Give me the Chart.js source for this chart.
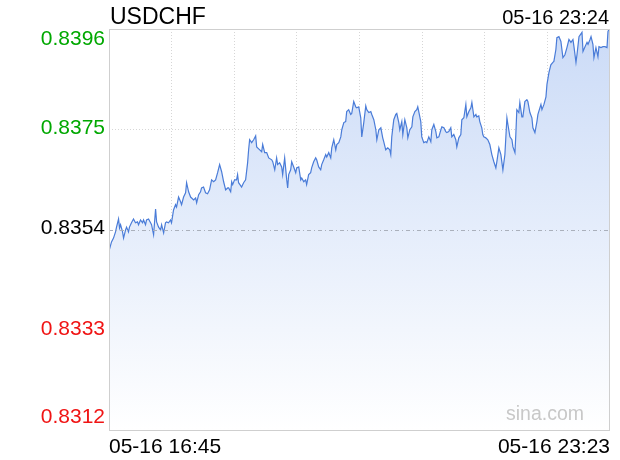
<!DOCTYPE html>
<html>
<head>
<meta charset="utf-8">
<title>USDCHF</title>
<script src="https://cdn.jsdelivr.net/npm/chart.js@4/dist/chart.umd.min.js"></script>
<style>
    body { margin: 0; background: #fff; }
    canvas { display: block; }
</style>
</head>
<body>
<canvas id="fxChart" width="620" height="460"></canvas>
<script>
// minutes after 16:45
const minutes = [
    0, 2.0, 3.6, 5.2, 6.0, 7.6, 8.4, 9.2, 10.8, 11.6, 13.2, 14.0, 15.5, 16.3, 17.9, 19.5, 21.1, 22.7, 23.5, 25.1,
    26.7, 27.5, 29.1, 29.9, 31.5, 33.1, 33.9, 35.5, 37.1, 37.9, 39.5, 41.1, 41.9, 43.5, 45.0, 45.8, 47.4, 49.0, 49.8, 51.4,
    53.0, 53.8, 55.4, 57.0, 57.8, 59.4, 61.0, 61.8, 63.4, 65.0, 65.8, 67.4, 69.0, 69.8, 71.4, 72.9, 73.7, 75.3, 76.9, 78.5,
    80.1, 81.7, 83.3, 84.9, 86.5, 88.1, 89.7, 91.3, 92.9, 94.5, 95.3, 96.9, 97.7, 98.5, 100.0, 101.6, 102.4, 103.2, 105.6, 107.2,
    108.8, 110.4, 111.2, 112.0, 113.6, 115.2, 116.8, 117.6, 119.2, 121.6, 122.4, 124.0, 125.6, 127.2, 129.6, 130.4, 132.0, 133.5, 134.3, 135.9,
    137.5, 138.3, 139.9, 141.5, 142.3, 143.1, 144.7, 145.5, 147.1, 148.7, 149.5, 151.1, 152.7, 153.5, 155.1, 156.6, 157.4, 159.0, 160.6, 161.4,
    163.0, 164.6, 165.4, 167.0, 168.6, 169.4, 171.0, 172.6, 173.4, 175.0, 176.6, 177.4, 179.0, 180.6, 181.4, 183.0, 184.6, 185.4, 187.0, 188.5,
    189.3, 190.9, 192.5, 193.3, 194.9, 196.5, 197.3, 198.9, 200.5, 201.3, 202.9, 204.5, 205.3, 206.9, 208.5, 209.3, 210.9, 212.5, 213.3, 214.9,
    216.5, 218.0, 218.8, 220.4, 222.0, 223.6, 224.4, 225.2, 226.8, 228.4, 229.2, 230.8, 231.6, 233.2, 234.0, 235.6, 237.2, 238.0, 239.6, 241.2,
    242.0, 243.6, 245.1, 245.9, 246.7, 248.3, 249.1, 250.7, 252.3, 253.1, 254.7, 256.3, 257.1, 258.7, 260.3, 261.1, 262.7, 264.3, 265.1, 266.7,
    268.2, 269.0, 270.6, 272.2, 273.0, 274.6, 276.2, 277.0, 278.6, 280.2, 281.0, 282.6, 284.2, 285.0, 286.6, 288.2, 289.0, 290.6, 292.2, 292.9,
    294.5, 295.3, 296.9, 297.7, 298.5, 300.1, 301.7, 303.3, 304.9, 306.5, 308.1, 308.9, 310.5, 312.1, 313.7, 315.3, 316.9, 317.7, 319.3, 320.9,
    321.7, 323.3, 324.0, 324.8, 326.4, 327.2, 328.8, 329.6, 331.2, 332.8, 333.6, 335.2, 336.8, 337.6, 339.2, 340.8, 341.6, 344.0, 344.8, 346.4,
    348.0, 348.8, 350.4, 351.9, 353.5, 354.3, 355.9, 356.7, 358.3, 359.9, 361.5, 363.1, 364.7, 366.3, 367.9, 369.5, 370.3, 371.9, 372.7, 374.3,
    376.7, 377.5, 379.1, 380.7, 381.5, 383.1, 383.9, 385.4, 386.2, 387.8, 389.4, 390.2, 391.8, 393.4, 395.0, 396.6, 397.4, 398.2, 399
];

const prices = [
    0.83495, 0.83514, 0.83522, 0.83535, 0.83545, 0.83562, 0.83543, 0.83550, 0.83535, 0.83522, 0.83539, 0.83545, 0.83535, 0.83545, 0.83554, 0.83562, 0.83554, 0.83556, 0.83550, 0.83560,
    0.83554, 0.83560, 0.83550, 0.83560, 0.83562, 0.83554, 0.83550, 0.83529, 0.83583, 0.83556, 0.83545, 0.83539, 0.83550, 0.83533, 0.83554, 0.83556, 0.83554, 0.83560, 0.83554, 0.83581,
    0.83592, 0.83587, 0.83608, 0.83598, 0.83592, 0.83608, 0.83617, 0.83638, 0.83619, 0.83608, 0.83606, 0.83602, 0.83606, 0.83596, 0.83613, 0.83619, 0.83627, 0.83629, 0.83617, 0.83615,
    0.83623, 0.83644, 0.83640, 0.83644, 0.83659, 0.83676, 0.83661, 0.83640, 0.83623, 0.83627, 0.83627, 0.83619, 0.83640, 0.83634, 0.83644, 0.83644, 0.83655, 0.83638, 0.83629, 0.83638,
    0.83644, 0.83680, 0.83707, 0.83728, 0.83722, 0.83728, 0.83736, 0.83713, 0.83709, 0.83703, 0.83718, 0.83701, 0.83701, 0.83690, 0.83686, 0.83682, 0.83665, 0.83690, 0.83676, 0.83680,
    0.83671, 0.83655, 0.83690, 0.83645, 0.83627, 0.83655, 0.83665, 0.83682, 0.83671, 0.83659, 0.83669, 0.83671, 0.83644, 0.83648, 0.83640, 0.83644, 0.83634, 0.83655, 0.83659, 0.83669,
    0.83682, 0.83690, 0.83686, 0.83671, 0.83665, 0.83676, 0.83686, 0.83697, 0.83692, 0.83701, 0.83690, 0.83711, 0.83728, 0.83707, 0.83718, 0.83722, 0.83734, 0.83749, 0.83764, 0.83766,
    0.83787, 0.83791, 0.83781, 0.83783, 0.83808, 0.83797, 0.83795, 0.83797, 0.83774, 0.83734, 0.83764, 0.83799, 0.83791, 0.83785, 0.83787, 0.83781, 0.83770, 0.83749, 0.83728, 0.83749,
    0.83753, 0.83732, 0.83724, 0.83707, 0.83711, 0.83707, 0.83697, 0.83734, 0.83770, 0.83781, 0.83783, 0.83764, 0.83749, 0.83766, 0.83739, 0.83770, 0.83753, 0.83732, 0.83749, 0.83755,
    0.83776, 0.83787, 0.83791, 0.83797, 0.83787, 0.83766, 0.83734, 0.83722, 0.83724, 0.83722, 0.83734, 0.83724, 0.83749, 0.83760, 0.83745, 0.83732, 0.83734, 0.83749, 0.83755, 0.83753,
    0.83745, 0.83743, 0.83745, 0.83753, 0.83734, 0.83739, 0.83728, 0.83713, 0.83732, 0.83739, 0.83770, 0.83774, 0.83802, 0.83776, 0.83787, 0.83795, 0.83806, 0.83776, 0.83781, 0.83776,
    0.83778, 0.83766, 0.83753, 0.83739, 0.83734, 0.83732, 0.83728, 0.83718, 0.83697, 0.83682, 0.83669, 0.83682, 0.83711, 0.83697, 0.83665, 0.83697, 0.83774, 0.83760, 0.83734, 0.83728,
    0.83713, 0.83701, 0.83739, 0.83791, 0.83785, 0.83806, 0.83776, 0.83776, 0.83808, 0.83812, 0.83808, 0.83785, 0.83774, 0.83753, 0.83743, 0.83766, 0.83781, 0.83802, 0.83791, 0.83802,
    0.83818, 0.83844, 0.83869, 0.83885, 0.83890, 0.83892, 0.83917, 0.83942, 0.83944, 0.83934, 0.83900, 0.83906, 0.83921, 0.83938, 0.83932, 0.83938, 0.83923, 0.83890, 0.83906, 0.83944,
    0.83953, 0.83913, 0.83923, 0.83932, 0.83928, 0.83938, 0.83944, 0.83928, 0.83900, 0.83921, 0.83902, 0.83923, 0.83921, 0.83923, 0.83923, 0.83921, 0.83955, 0.83959, 0.83960
];

const yTicks = [0.8312, 0.8333, 0.8354, 0.8375, 0.8396];
const xGridTicks = [49.875, 99.75, 149.625, 199.5, 249.375, 299.25, 349.125];
const prevClose = 0.8354;
const symbol = 'USDCHF';
const lastTime = '05-16 23:24';
const startLabel = '05-16 16:45';
const endLabel = '05-16 23:23';

const chartData = minutes.map((m, i) => ({ x: m, y: prices[i] }));

function tickColor(v) {
    if (v > prevClose + 1e-9) return '#00a800';
    if (v < prevClose - 1e-9) return '#f01414';
    return '#000';
}

const overlay = {
    id: 'overlay',
    afterDraw(chart) {
        const ctx = chart.ctx;
        const area = chart.chartArea;
        const yScale = chart.scales.y;
        ctx.save();

        // prev close line
        const py = Math.round(yScale.getPixelForValue(prevClose)) + 0.5;
        ctx.strokeStyle = '#aab0bb';
        ctx.lineWidth = 1;
        ctx.setLineDash([4, 3, 1, 3]);
        ctx.beginPath();
        ctx.moveTo(area.left, py);
        ctx.lineTo(area.right, py);
        ctx.stroke();
        ctx.setLineDash([]);

        // frame
        ctx.strokeStyle = '#cfcfcf';
        ctx.strokeRect(area.left + 0.5, area.top + 0.5, area.right - area.left - 1, area.bottom - area.top);

        // y labels
        ctx.font = '21px "Liberation Sans", Arial, sans-serif';
        ctx.textAlign = 'right';
        ctx.textBaseline = 'middle';
        yTicks.forEach((v, i) => {
            let y = yScale.getPixelForValue(v) - 1;
            if (i === 0) y = area.bottom - 13;
            if (i === yTicks.length - 1) y = area.top + 10;
            ctx.fillStyle = tickColor(v);
            ctx.fillText(v.toFixed(4), 105, y);
        });

        // title + times
        ctx.fillStyle = '#000';
        ctx.textBaseline = 'alphabetic';
        ctx.textAlign = 'left';
        ctx.font = '23px "Liberation Sans", Arial, sans-serif';
        ctx.fillText(symbol, 110, 24);
        ctx.textAlign = 'right';
        ctx.font = '20px "Liberation Sans", Arial, sans-serif';
        ctx.fillText(lastTime, 609, 24);
        ctx.font = '21px "Liberation Sans", Arial, sans-serif';
        ctx.textAlign = 'left';
        ctx.fillText(startLabel, 109, 453);
        ctx.textAlign = 'right';
        ctx.fillText(endLabel, 610, 453);

        // watermark
        ctx.fillStyle = '#c8c8c8';
        ctx.font = '19.5px "Liberation Sans", Arial, sans-serif';
        ctx.textAlign = 'left';
        ctx.fillText('sina.com', 506, 420);
        ctx.restore();
    }
};

new Chart(document.getElementById('fxChart').getContext('2d'), {
    type: 'line',
    data: {
        datasets: [{
            data: chartData,
            borderColor: '#4a7cd8',
            borderWidth: 1.2,
            pointRadius: 0,
            tension: 0,
            fill: 'start',
            backgroundColor: function (context) {
                const area = context.chart.chartArea;
                if (!area) return 'rgba(210,224,248,0.6)';
                const g = context.chart.ctx.createLinearGradient(0, area.top, 0, area.bottom);
                g.addColorStop(0, '#cbdbf7');
                g.addColorStop(1, '#ffffff');
                return g;
            }
        }]
    },
    options: {
        responsive: false,
        animation: false,
        devicePixelRatio: 1,
        layout: { padding: { left: 109, top: 29, right: 10, bottom: 30 } },
        plugins: {
            legend: { display: false },
            tooltip: { enabled: false }
        },
        scales: {
            x: {
                type: 'linear',
                min: 0,
                max: 399,
                afterBuildTicks: scale => { scale.ticks = xGridTicks.map(v => ({ value: v })); },
                ticks: { display: false },
                grid: { color: '#d6d6d6', drawTicks: false },
                border: { display: false, dash: [1, 2] }
            },
            y: {
                min: 0.8312,
                max: 0.8396,
                afterBuildTicks: scale => { scale.ticks = yTicks.map(v => ({ value: v })); },
                ticks: { display: false },
                grid: {
                    drawTicks: false,
                    color: ctx => (ctx.tick && Math.abs(ctx.tick.value - prevClose) < 1e-9) ? 'rgba(0,0,0,0)' : '#d6d6d6'
                },
                border: { display: false, dash: [1, 2] }
            }
        }
    },
    plugins: [overlay]
});
</script>
</body>
</html>
